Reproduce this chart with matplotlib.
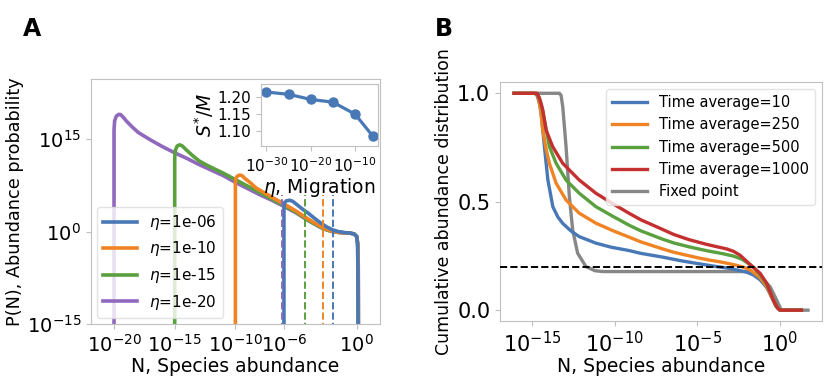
import numpy as np
import matplotlib.pyplot as plt

# ---- panel A: abundance distributions (log10 N, log10 P(N)) ----
eta_labels = ['1e-06', '1e-10', '1e-15', '1e-20']

logN_e6 = [-6.0, -6.0, -5.95, -5.8, -5.55, -5.3, -5.0, -4.5, -4.0, -3.5, -3.0, -2.5,
           -2.0, -1.5, -1.0, -0.5, -0.2, 0.0, 0.06, 0.1, 0.11]
logP_e6 = [-16, 4.0, 4.7, 5.0, 5.1, 4.95, 4.5, 3.7, 3.0, 2.2, 1.45, 0.8,
           0.3, 0.0, -0.15, -0.25, -0.4, -0.8, -2.0, -6.0, -16]

logN_e10 = [-10.0, -10.0, -9.97, -9.85, -9.65, -9.45, -9.2, -8.8, -8.3, -7.7, -7.0, -6.0,
            -5.0, -4.0, -3.0, -2.5, -2.0, -1.5, -1.0, -0.5, -0.2, 0.0, 0.08, 0.12, 0.13]
logP_e10 = [-16, 8.0, 8.6, 9.0, 9.2, 9.1, 8.6, 8.0, 7.1, 6.4, 5.6, 4.5,
            3.35, 2.05, 0.85, 0.4, 0.02, -0.12, -0.2, -0.25, -0.4, -0.8, -2.0, -5.0, -16]

logN_e15 = [-15.0, -15.0, -14.95, -14.8, -14.6, -14.4, -14.0, -13.5, -13.0, -12.5, -12.0,
            -11.0, -10.0, -9.0, -8.0, -7.0, -6.0, -5.0, -4.0, -3.0, -2.5, -2.0, -1.5,
            -1.0, -0.5, -0.2, 0.0, 0.08, 0.12, 0.13]
logP_e15 = [-16, 12.0, 13.2, 13.9, 14.1, 13.95, 13.2, 12.3, 11.5, 10.95, 10.45,
            9.5, 8.45, 7.4, 6.35, 5.3, 4.25, 3.15, 1.85, 0.75, 0.32, 0.0, -0.12,
            -0.2, -0.25, -0.4, -0.8, -2.0, -5.0, -16]

logN_e20 = [-20.0, -20.0, -19.95, -19.8, -19.6, -19.45, -19.2, -19.0, -18.5, -18.0, -17.0,
            -16.0, -15.0, -14.0, -13.0, -12.0, -11.0, -10.0, -9.0, -8.0, -7.0, -6.0,
            -5.0, -4.0, -3.0, -2.5, -2.0, -1.5, -1.0, -0.5, -0.2, 0.0, 0.08, 0.12, 0.14]
logP_e20 = [-16, 16.5, 18.0, 18.8, 19.05, 19.0, 18.5, 18.0, 17.0, 16.1, 14.9,
            13.8, 12.8, 11.9, 10.9, 10.0, 9.1, 8.0, 7.0, 6.0, 5.1, 4.1,
            3.05, 1.8, 0.7, 0.3, 0.0, -0.12, -0.2, -0.25, -0.4, -0.8, -2.0, -5.0, -16]

# dashed markers (log10 N) and their top (log10 P)
dash_logN = [-1.95, -2.8, -4.25, -6.2]
dash_top = 6.0

# inset: S*/M vs migration
inset_eta = [1e-30, 1e-25, 1e-20, 1e-15, 1e-10, 1e-6]
inset_S = [1.2146, 1.208, 1.193, 1.185, 1.150, 1.086]

# ---- panel B: cumulative abundance distribution ----
tavg_labels = ['Time average=10', 'Time average=250', 'Time average=500',
               'Time average=1000', 'Fixed point']

bx_10 = [-16.1, -14.85, -14.7, -14.55, -14.46, -14.26, -14.05, -13.75, -13.45, -13.15,
         -12.65, -12.15, -11.14, -10.2, -9.14, -8.43, -7.13, -6.0, -5.0, -4.0, -3.0,
         -2.41, -2.0, -1.6, -1.2, -0.8, -0.5, -0.25, 0.0, 1.3]
by_10 = [1.0, 1.0, 0.99, 0.95, 0.908, 0.754, 0.60, 0.477, 0.43, 0.40,
         0.365, 0.339, 0.309, 0.29, 0.275, 0.262, 0.245, 0.228, 0.215, 0.203, 0.192,
         0.182, 0.175, 0.162, 0.14, 0.105, 0.06, 0.02, 0.0, 0.0]

bx_250 = [-16.1, -14.8, -14.65, -14.5, -14.36, -14.15, -13.96, -13.55, -12.95, -12.15,
          -11.14, -10.1, -9.14, -8.43, -7.13, -6.43, -5.0, -4.42, -3.5, -2.8, -2.2,
          -1.81, -1.2, -0.8, -0.5, -0.25, 0.0, 1.3]
by_250 = [1.0, 1.0, 0.985, 0.93, 0.831, 0.74, 0.677, 0.585, 0.508, 0.447,
          0.401, 0.366, 0.337, 0.315, 0.283, 0.267, 0.242, 0.233, 0.221, 0.21, 0.198,
          0.186, 0.15, 0.11, 0.06, 0.02, 0.0, 0.0]

bx_500 = [-16.1, -14.8, -14.6, -14.45, -14.26, -13.96, -13.55, -12.95, -12.15, -11.14,
          -10.1, -9.14, -8.43, -7.13, -6.43, -5.5, -4.42, -3.5, -2.8, -2.3, -1.81,
          -1.5, -1.2, -0.8, -0.5, -0.25, 0.0, 1.3]
by_500 = [1.0, 1.0, 0.985, 0.95, 0.877, 0.754, 0.677, 0.60, 0.539, 0.477,
          0.432, 0.392, 0.366, 0.328, 0.31, 0.292, 0.274, 0.261, 0.249, 0.235, 0.21,
          0.19, 0.163, 0.12, 0.065, 0.02, 0.0, 0.0]

bx_1000 = [-16.1, -14.7, -14.55, -14.36, -14.16, -13.76, -13.15, -12.15, -11.14, -10.1,
           -9.14, -8.43, -7.13, -6.43, -5.5, -4.42, -3.21, -2.8, -2.41, -1.81, -1.2,
           -0.8, -0.4, -0.15, 0.0, 1.3]
by_1000 = [1.0, 1.0, 0.975, 0.923, 0.831, 0.754, 0.677, 0.60, 0.539, 0.49,
           0.447, 0.417, 0.373, 0.349, 0.325, 0.303, 0.282, 0.271, 0.253, 0.211, 0.17,
           0.124, 0.047, 0.01, 0.0, 0.0]

bx_fixed = [-14.7, -13.35, -13.25, -13.15, -12.95, -12.75, -12.55, -12.25, -11.75, -11.2,
            -10.74, -1.8, -1.2, -0.6, -0.2, 0.05, 0.2, 1.7]
by_fixed = [1.0, 1.0, 0.99, 0.938, 0.754, 0.524, 0.37, 0.263, 0.201, 0.182,
            0.178, 0.178, 0.155, 0.109, 0.047, 0.005, 0.0, 0.0]

threshold = 0.2

BLUE = '#4878b5'
ORANGE = '#f08425'
GREEN = '#5ba03e'
PURPLE = '#9068bd'
RED = '#c4302f'
GRAY = '#878787'
SPINE = '#c0c0c0'

fig = plt.figure(figsize=(8.3, 3.77), dpi=100)


def style(ax, size):
    for s in ax.spines.values():
        s.set_color(SPINE)
    ax.tick_params(which='both', color=SPINE, labelsize=size, length=3.5, width=0.8)
    ax.minorticks_off()


# ---------------- panel A ----------------
axA = fig.add_axes([0.1096, 0.1406, 0.348, 0.65])
curvesA = [(logN_e6, logP_e6, BLUE), (logN_e10, logP_e10, ORANGE),
           (logN_e15, logP_e15, GREEN), (logN_e20, logP_e20, PURPLE)]
handles = []
for (lx, ly, c), lab in reversed(list(zip(curvesA, eta_labels))):
    h, = axA.plot(10 ** np.array(lx), 10 ** np.array(ly), color=c, lw=2.6,
                  label=r'$\eta$=' + lab)
    handles.append(h)
for x, c in zip(dash_logN, [BLUE, ORANGE, GREEN, PURPLE]):
    axA.vlines(10 ** x, 1e-16, 10 ** dash_top, colors=c, linestyles='--', lw=1.4)
axA.set_xscale('log')
axA.set_yscale('log')
axA.set_xlim(10 ** -21.9, 10 ** 1.9)
axA.set_ylim(1e-15, 10 ** 24.8)
axA.set_xticks([1e-20, 1e-15, 1e-10, 1e-6, 1e0])
axA.set_yticks([1e-15, 1e0, 1e15])
style(axA, 14)
axA.set_xlabel('N, Species abundance', fontsize=13.5, labelpad=1)
axA.set_ylabel('P(N), Abundance probability', fontsize=12.7, labelpad=2)
axA.legend(handles[::-1], [h.get_label() for h in handles[::-1]], loc='lower left',
           fontsize=11, handlelength=2.2, borderaxespad=0.4, edgecolor='#dddddd')
fig.text(0.028, 0.905, 'A', fontsize=17, fontweight='bold')

# inset
axI = fig.add_axes([0.3145, 0.612, 0.141, 0.166])
axI.plot(inset_eta, inset_S, color=BLUE, lw=2.3, marker='o', ms=6.5)
axI.set_xscale('log')
axI.set_xlim(10 ** -31.2, 10 ** -4.8)
axI.set_ylim(1.056, 1.239)
axI.set_xticks([1e-30, 1e-20, 1e-10])
axI.set_yticks([1.10, 1.15, 1.20])
style(axI, 11)
axI.set_xlabel(r'$\eta$, Migration', fontsize=13.5, labelpad=1)
axI.set_ylabel(r'$S^{*}/M$', fontsize=13.5, labelpad=1)

# ---------------- panel B ----------------
axB = fig.add_axes([0.6024, 0.1485, 0.388, 0.634])
axB.plot(10 ** np.array(bx_fixed), by_fixed, color=GRAY, lw=2.4, zorder=2)
curvesB = [(bx_10, by_10, BLUE), (bx_250, by_250, ORANGE),
           (bx_500, by_500, GREEN), (bx_1000, by_1000, RED)]
hB = []
for (lx, ly, c), lab in zip(curvesB, tavg_labels[:4]):
    h, = axB.plot(10 ** np.array(lx), ly, color=c, lw=2.4, label=lab, zorder=3)
    hB.append(h)
hB.append(axB.lines[0])
axB.lines[0].set_label(tavg_labels[4])
axB.axhline(threshold, color='black', ls='--', lw=1.4, zorder=4)
axB.set_xscale('log')
axB.set_xlim(10 ** -16.95, 10 ** 2.55)
axB.set_ylim(-0.05, 1.052)
axB.set_xticks([1e-15, 1e-10, 1e-5, 1e0])
axB.set_yticks([0.0, 0.5, 1.0])
style(axB, 15)
axB.set_xlabel('N, Species abundance', fontsize=13.5, labelpad=1)
axB.set_ylabel('Cumulative abundance distribution', fontsize=12.5, labelpad=3)
axB.legend(hB, tavg_labels, loc='upper right', fontsize=10.5, handlelength=2.4,
           edgecolor='#dddddd')
fig.text(0.524, 0.905, 'B', fontsize=17, fontweight='bold')

fig.savefig('out.png', dpi=100)
